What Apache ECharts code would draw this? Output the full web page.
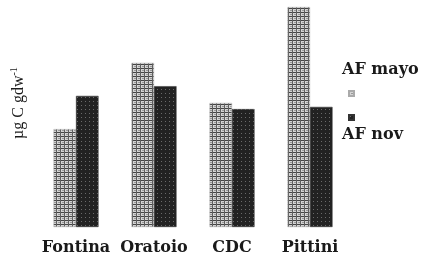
<!DOCTYPE html>
<html><head><meta charset="utf-8">
<script src="https://cdn.jsdelivr.net/npm/echarts@6/dist/echarts.min.js"></script>
<style>html,body{margin:0;padding:0;background:#fff}#c{width:426px;height:264px}</style>
</head><body><div id="c"></div>
<script>
var categories = ['Fontina', 'Oratoio', 'CDC', 'Pittini'];
var afMayo = [44.5, 74.6, 56.4, 100];
var afNov = [59.6, 64.0, 53.6, 54.6];
var seriesNames = ['AF mayo', 'AF nov'];
var yAxisLabel = 'µg C gdw';

function makePattern(kind) {
  var c = document.createElement('canvas');
  c.width = 4; c.height = 4;
  var g = c.getContext('2d');
  if (kind === 'grid') {
    g.fillStyle = '#d4d4d4'; g.fillRect(0, 0, 4, 4);
    g.fillStyle = '#444'; g.fillRect(0, 0, 4, 1);
    g.fillStyle = '#5e5e5e'; g.fillRect(0, 0, 1, 4);
    g.fillStyle = '#999'; g.fillRect(2, 2, 2, 1);
  } else {
    g.fillStyle = '#222'; g.fillRect(0, 0, 4, 4);
    g.fillStyle = '#6a6a6a'; g.fillRect(1, 1, 1, 1);
  }
  return {image: c, repeat: 'repeat'};
}

var chart = echarts.init(document.getElementById('c'), null, {renderer: 'canvas'});
chart.setOption({
  animation: false,
  backgroundColor: '#fff',
  grid: {left: 37, right: 77, top: 7, bottom: 37},
  xAxis: {
    type: 'category', data: categories,
    axisLine: {show: false}, axisTick: {show: false},
    axisLabel: {interval: 0, margin: 13, fontFamily: 'DejaVu Serif', fontWeight: 'bold', fontSize: 16, color: '#1a1a1a'}
  },
  yAxis: {type: 'value', min: 0, max: 100, show: false},
  legend: {
    orient: 'vertical', left: 348, top: 90, padding: 0, itemWidth: 5, itemHeight: 5, itemGap: 17,
    icon: 'rect', formatter: function () { return ''; },
    data: seriesNames
  },
  series: [
    {name: seriesNames[0], type: 'bar', data: afMayo, barWidth: 22.5, barGap: '0%',
     itemStyle: {color: makePattern('grid'), borderColor: '#aaa', borderWidth: 0.5}},
    {name: seriesNames[1], type: 'bar', data: afNov, barWidth: 22.5,
     itemStyle: {color: makePattern('dots'), borderColor: '#333', borderWidth: 0.5}}
  ],
  graphic: [
    {type: 'text', left: 342, top: 62, style: {text: seriesNames[0], font: 'bold 16px "DejaVu Serif"', fill: '#1a1a1a'}},
    {type: 'text', left: 342, top: 127, style: {text: seriesNames[1], font: 'bold 16px "DejaVu Serif"', fill: '#1a1a1a'}},
    {type: 'text', x: 9, y: 139, rotation: Math.PI / 2,
     style: {text: '{a|' + yAxisLabel + '}{s|-1}', rich: {
       a: {fontFamily: 'Liberation Serif', fontSize: 16, fill: '#1a1a1a', verticalAlign: 'bottom'},
       s: {fontFamily: 'Liberation Serif', fontSize: 10, fill: '#1a1a1a', verticalAlign: 'top', padding: [0,0,8,0]}
     }}}
  ]
});
</script></body></html>
